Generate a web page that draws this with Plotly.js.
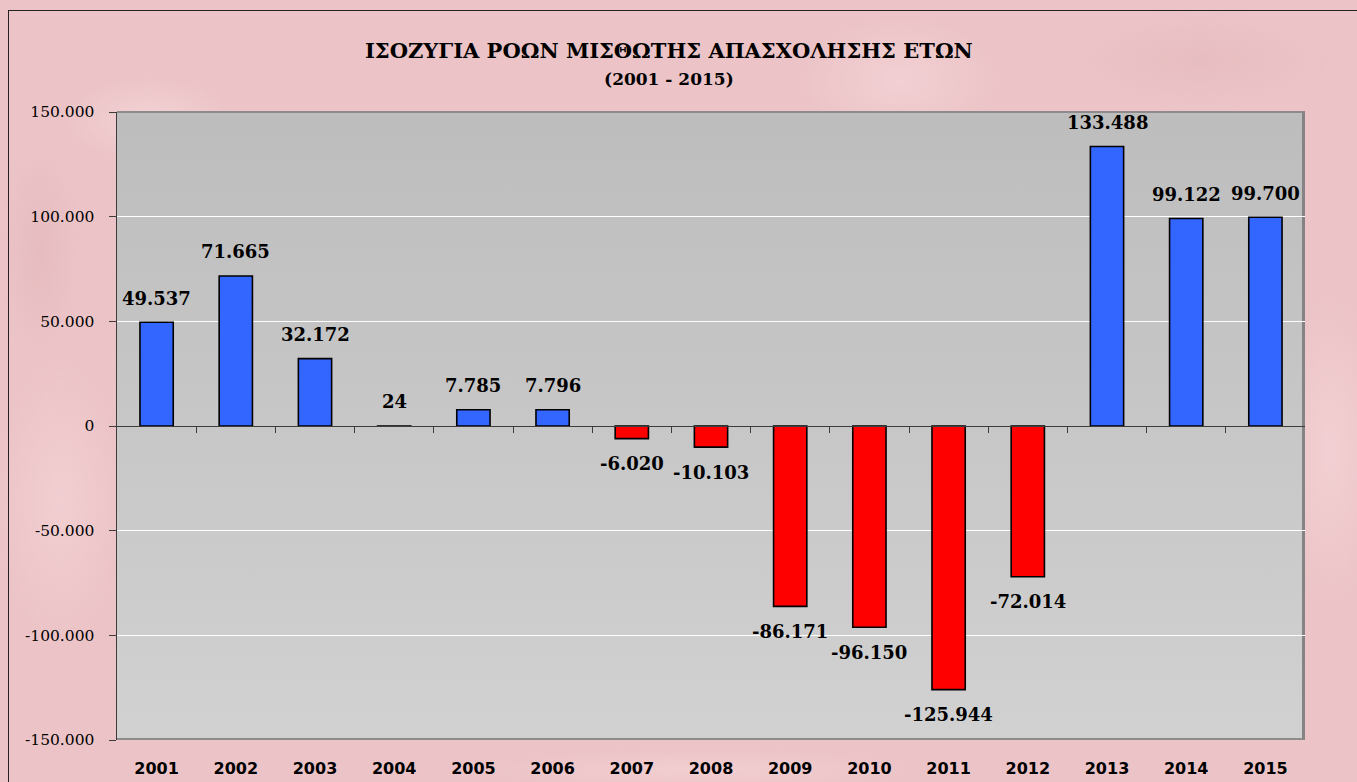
<!DOCTYPE html>
<html>
<head>
<meta charset="utf-8">
<script src="https://cdn.plot.ly/plotly-3.0.1.min.js"></script>
<style>
  html, body { margin:0; padding:0; width:1357px; height:782px; overflow:hidden; }
  body {
    background-color: #ecc4c7;
    background-image:
      radial-gradient(ellipse 120px 60px at 150px 120px, rgba(255,235,238,0.35), rgba(255,235,238,0) 70%),
      radial-gradient(ellipse 160px 80px at 520px 300px, rgba(200,150,155,0.18), rgba(200,150,155,0) 70%),
      radial-gradient(ellipse 140px 90px at 900px 80px, rgba(255,235,238,0.30), rgba(255,235,238,0) 70%),
      radial-gradient(ellipse 200px 70px at 1200px 60px, rgba(210,160,165,0.18), rgba(210,160,165,0) 70%),
      radial-gradient(ellipse 90px 200px at 60px 500px, rgba(255,230,233,0.30), rgba(255,230,233,0) 70%),
      radial-gradient(ellipse 80px 220px at 1330px 450px, rgba(255,230,233,0.35), rgba(255,230,233,0) 70%),
      radial-gradient(ellipse 60px 160px at 40px 250px, rgba(205,155,160,0.20), rgba(205,155,160,0) 70%),
      radial-gradient(ellipse 300px 30px at 700px 770px, rgba(255,230,233,0.30), rgba(255,230,233,0) 70%);
  }
  #frame { position:absolute; left:8px; top:10px; width:1360px; height:790px; border-left:1px solid #222; border-top:1px solid #222; box-sizing:border-box; }
  #plotbg { position:absolute; left:117px; top:111px; width:1188px; height:629px;
    background: linear-gradient(to bottom, #bdbdbd 0%, #c7c7c7 50%, #d1d1d1 100%);
    border-top:2px solid #8c8c8c; border-right:3px solid #848484; border-bottom:2px solid #8c8c8c; box-sizing:border-box; }
  #chart { position:absolute; left:0; top:0; width:1357px; height:782px; }
</style>
</head>
<body>
<div id="frame"></div>
<div id="plotbg"></div>
<div id="chart"></div>
<script>
const years = ["2001","2002","2003","2004","2005","2006","2007","2008","2009","2010","2011","2012","2013","2014","2015"];
const balance = [49537, 71665, 32172, 24, 7785, 7796, -6020, -10103, -86171, -96150, -125944, -72014, 133488, 99122, 99700];
const yTickVals = [-150000, -100000, -50000, 0, 50000, 100000, 150000];
const yTickText = ["-150.000", "-100.000", "-50.000", "0", "50.000", "100.000", "150.000"];
const titleLine1 = "ΙΣΟΖΥΓΙΑ ΡΟΩΝ ΜΙΣΘΩΤΗΣ ΑΠΑΣΧΟΛΗΣΗΣ ΕΤΩΝ";
const titleLine2 = "(2001 - 2015)";

function fmt(v) {
  const s = String(Math.abs(v)).replace(/\B(?=(\d{3})+(?!\d))/g, ".");
  return (v < 0 ? "-" : "") + s;
}

const idx = years.map((_, i) => i);
const boundaries = years.slice(1).map((_, i) => i + 0.5);

const barTrace = {
  type: "bar",
  x: years,
  y: balance,
  marker: {
    color: balance.map(v => v >= 0 ? "#3366ff" : "#ff0000"),
    line: { color: "#000000", width: 1.6 }
  },
  hoverinfo: "x+y",
  xaxis: "x",
  yaxis: "y"
};

const tickTrace = {
  type: "scatter",
  mode: "none",
  x: idx,
  y: balance,
  xaxis: "x2",
  yaxis: "y",
  hoverinfo: "skip",
  showlegend: false
};

const annotations = balance.map((v, i) => ({
  x: i,
  y: v,
  xref: "x2",
  yref: "y",
  text: "<b>" + fmt(v) + "</b>",
  showarrow: false,
  yanchor: "middle",
  yshift: v >= 0 ? 24 : -25,
  font: { family: "DejaVu Serif", size: 18, color: "#000" }
}));

annotations.push({
  xref: "paper", yref: "paper", x: 0.465, y: 1, yanchor: "bottom", yshift: 21,
  text: "<b>" + titleLine1 + "</b><br><span style=\"font-size:17px\"><b>" + titleLine2 + "</b></span>",
  showarrow: false,
  font: { family: "DejaVu Serif", size: 21, color: "#000" }
});

const layout = {
  width: 1357,
  height: 782,
  margin: { l: 117, r: 52, t: 112, b: 42, pad: 0 },
  paper_bgcolor: "rgba(0,0,0,0)",
  plot_bgcolor: "rgba(0,0,0,0)",
  showlegend: false,
  bargap: 0.58,
  xaxis: {
    type: "category",
    range: [-0.5, 14.5],
    showgrid: false,
    zeroline: false,
    showline: false,
    ticks: "",
    ticklabelstandoff: 17,
    tickfont: { family: "DejaVu Sans", size: 16, color: "#000", weight: "bold" },
    fixedrange: true
  },
  xaxis2: {
    overlaying: "x",
    anchor: "free",
    position: 0.5,
    type: "linear",
    range: [-0.5, 14.5],
    showgrid: false,
    zeroline: false,
    showline: true,
    linecolor: "#3c3c3c",
    linewidth: 1,
    ticks: "outside",
    ticklen: 6,
    tickwidth: 1,
    tickcolor: "#3c3c3c",
    tickvals: boundaries,
    showticklabels: false,
    fixedrange: true
  },
  yaxis: {
    range: [-150000, 150000],
    tickvals: yTickVals,
    ticktext: yTickText,
    showgrid: true,
    gridcolor: "#ffffff",
    gridwidth: 1,
    zeroline: false,
    showline: true,
    linecolor: "#3c3c3c",
    linewidth: 1.5,
    ticks: "outside",
    ticklen: 7,
    tickcolor: "#3c3c3c",
    ticklabelstandoff: 11,
    tickfont: { family: "DejaVu Serif", size: 15.5, color: "#000" },
    fixedrange: true
  },
  annotations: annotations
};

Plotly.newPlot("chart", [barTrace, tickTrace], layout, { displayModeBar: false, staticPlot: true });
</script>
</body>
</html>
